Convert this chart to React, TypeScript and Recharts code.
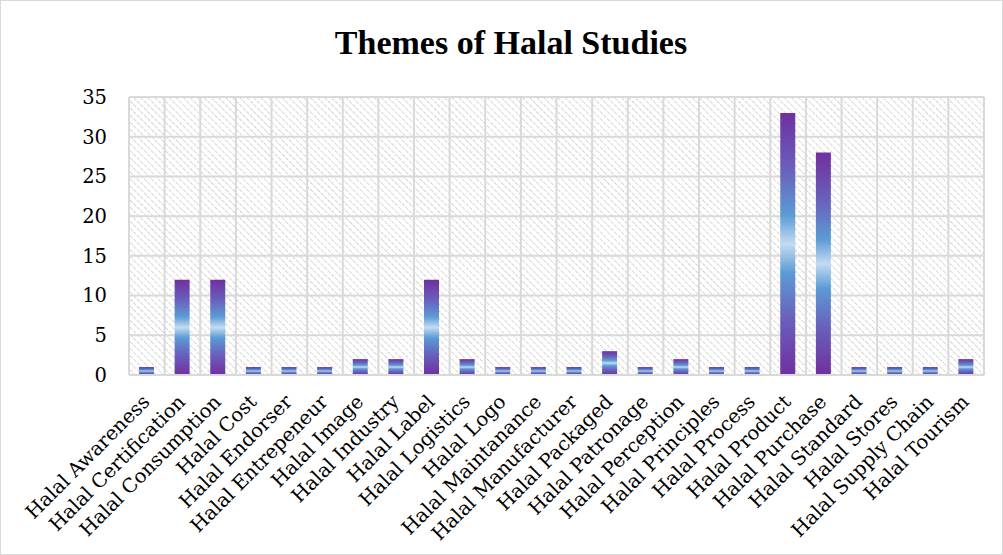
import React from "react";
import { BarChart, Bar, XAxis, YAxis, CartesianGrid } from "recharts";

const themes = [
  "Halal Awareness",
  "Halal Certification",
  "Halal Consumption",
  "Halal Cost",
  "Halal Endorser",
  "Halal Entrepeneur",
  "Halal Image",
  "Halal Industry",
  "Halal Label",
  "Halal Logistics",
  "Halal Logo",
  "Halal Maintanance",
  "Halal Manufacturer",
  "Halal Packaged",
  "Halal Patronage",
  "Halal Perception",
  "Halal Principles",
  "Halal Process",
  "Halal Product",
  "Halal Purchase",
  "Halal Standard",
  "Halal Stores",
  "Halal Supply Chain",
  "Halal Tourism",
];

const counts = [1, 12, 12, 1, 1, 1, 2, 2, 12, 2, 1, 1, 1, 3, 1, 2, 1, 1, 33, 28, 1, 1, 1, 2];

const yTicks = [0, 5, 10, 15, 20, 25, 30, 35];

const data = themes.map((name, i) => ({ name, value: counts[i] }));

const labelFont = "'DejaVu Serif', serif";

// rotated category labels, anchored at their end just under the axis
const XTick = (props: any) => {
  const { x, y, payload } = props;
  return (
    <g transform={`translate(${x + 4},${y + 28})`}>
      <text
        textAnchor="end"
        transform="rotate(-45)"
        fontFamily={labelFont}
        fontSize={19.5}
        fill="#000"
      >
        {payload.value}
      </text>
    </g>
  );
};

// grid lines on category boundaries instead of centres
const boundaryLines = (props: any) => {
  const { offset } = props;
  const n = themes.length;
  const out: number[] = [];
  for (let i = 0; i <= n; i++) out.push(offset.left + (i * offset.width) / n);
  return out;
};

export default function App() {
  return (
    <div
      style={{
        position: "absolute",
        left: 0,
        top: 0,
        width: 1003,
        height: 555,
        boxSizing: "border-box",
        border: "1px solid #d9d9d9",
        background: "#fff",
      }}
    >
      <div
        style={{
          position: "absolute",
          left: 0,
          top: 25,
          width: 1020,
          textAlign: "center",
          fontFamily: "'Liberation Serif', serif",
          fontWeight: "bold",
          fontSize: 34,
          lineHeight: "33px",
          color: "#000",
        }}
      >
        Themes of Halal Studies
      </div>
      <BarChart
        width={1003}
        height={555}
        data={data}
        margin={{ top: 97, right: 19, left: 69, bottom: 0 }}
        style={{ position: "absolute", left: -1, top: -1 }}
      >
        <defs>
          <linearGradient id="barGrad" x1="0" y1="0" x2="0" y2="1">
            <stop offset="0" stopColor="#7030A0" />
            <stop offset="0.2" stopColor="#6A5CBA" />
            <stop offset="0.39" stopColor="#5B9BD5" />
            <stop offset="0.5" stopColor="#C3DBF1" />
            <stop offset="0.61" stopColor="#5B9BD5" />
            <stop offset="0.8" stopColor="#6A5CBA" />
            <stop offset="1" stopColor="#7030A0" />
          </linearGradient>
          <pattern
            id="hatch"
            width="5"
            height="5"
            patternUnits="userSpaceOnUse"
            patternTransform="rotate(-45)"
          >
            <rect width="5" height="5" fill="#fff" />
            <line x1="0" y1="0" x2="0" y2="5" stroke="#d6d6d6" strokeWidth="2" strokeDasharray="2 1" />
          </pattern>
        </defs>
        <CartesianGrid
          fill="url(#hatch)"
          fillOpacity={1}
          stroke="#d9d9d9"
          strokeWidth={2}
          verticalCoordinatesGenerator={boundaryLines}
        />
        <XAxis
          dataKey="name"
          interval={0}
          height={180}
          tickLine={false}
          tickSize={0}
          tickMargin={0}
          axisLine={{ stroke: "#d9d9d9", strokeWidth: 2 }}
          tick={<XTick />}
        />
        <YAxis
          width={60}
          domain={[0, 35]}
          ticks={yTicks}
          interval={0}
          tickLine={false}
          tickSize={0}
          tickMargin={22}
          axisLine={false}
          tick={{ fontFamily: labelFont, fontSize: 19.5, fill: "#000" }}
        />
        <Bar dataKey="value" fill="url(#barGrad)" barSize={15} isAnimationActive={false} />
      </BarChart>
    </div>
  );
}
